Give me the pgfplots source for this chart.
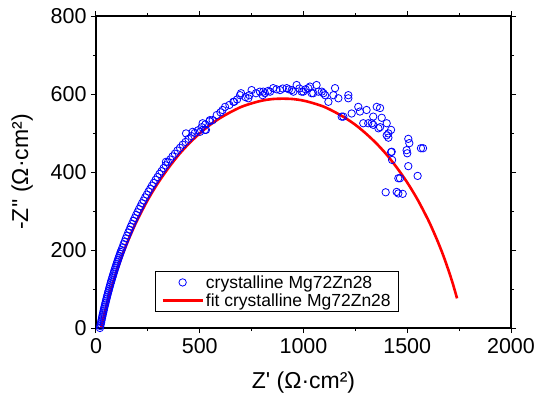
\documentclass[border=0pt]{standalone}
\usepackage{pgfplots}
\pgfplotsset{compat=1.18}
\usepackage{fontspec}
\setmainfont{Liberation Sans}[Ligatures=TeXOff]
\begin{document}
\begin{tikzpicture}
\useasboundingbox (-96pt,-80pt) rectangle (452pt,328pt);
\begin{axis}[
  at={(0pt,0pt)}, anchor=south west,
  scale only axis, width=415pt, height=312pt,
  xmin=0, xmax=2000, ymin=0, ymax=800,
  xtick={0,500,1000,1500,2000},
  ytick={0,200,400,600,800},
  minor tick num=1,
  tick align=outside,
  major tick length=5pt, minor tick length=3pt,
  every tick/.style={black, line width=1pt},
  axis line style={black, line width=1.4pt},
  /pgf/number format/assume math mode=true,
  /pgf/number format/1000 sep={},
  tick label style={font=\fontsize{21.5}{24}\selectfont},
  xticklabel style={yshift=-2pt},
  yticklabel style={xshift=-1pt},
  xlabel={Z' (Ω·cm²)},
  ylabel={-Z'' (Ω·cm²)},
  every axis x label/.style={at={(axis description cs:0.5,-0.176)}, anchor=center, font=\fontsize{23}{26}\selectfont},
  every axis y label/.style={at={(axis description cs:-0.178,0.5)}, anchor=center, rotate=90, font=\fontsize{23}{26}\selectfont},
  clip=false,
  legend style={at={(0.142,0.051)}, anchor=south west, draw=black, line width=0.8pt,
    font=\fontsize{17.5}{20}\selectfont, inner xsep=6pt, inner ysep=2pt, row sep=0pt,
    cells={anchor=west}},
  legend image code/.code={\draw[mark repeat=2,mark phase=2,#1] plot coordinates {(0pt,0pt)(20pt,0pt)(40pt,0pt)};},
]
\addplot[only marks, mark=o, mark size=3.7pt, draw={rgb,255:red,0;green,0;blue,255}, mark options={line width=0.8pt}] coordinates {
(19,0)(20.9,5)(22.8,10)(24.7,15)(26.7,20)(28.6,25)(30.7,30)(32.5,35)(34.8,40)(37,45)(39.1,50)(41.3,55)(43.6,60)(46,65)(48.2,70)(50.5,75)(52.9,80)(55.3,85)(57.8,90)(60.4,95)(63,100)(65.5,105)(68.1,110)(70.7,115)(73.4,120)(76.2,125)(79,130)(81.8,135)(84.7,140)(87.6,145)(90.5,150)(93.5,155)(96.6,160)(99.7,165)(102.8,170)(106,175)(109.2,180)(112.5,185)(115.8,190)(119.4,195)(123,200)(128,207)(133.2,215)(138.6,222)(144.2,230)(150,237)(155.8,245)(161.8,252)(167.8,260)(174,267)(180.4,275)(187,282)(193.6,290)(200.5,297)(207.4,305)(214.6,312)(221.9,320)(229.4,327)(237,335)(245,342)(253,350)(261.3,357)(269.7,365)(278.4,372)(287.3,380)(296.5,387)(305.9,395)(315.7,402)(325.6,410)(335.9,417)(346.4,425)(357.4,432)(368.6,440)(380.3,447)(392.4,455)(405,462)(417.9,470)(431.6,477)(445.6,485)(460.6,492)(476,500)(492,507)(509.2,515)(527,522)(546.8,530)
(337,426)(434,499)(466,503)(501,503)(525,508)(514,525)(530,508)(549,533)(562,533)(582,546)(600,553)(610,559)(622,567)(643,572)(662,580)(666,580)(680,586)(694,597)(699,602)(720,592)(734,589)(739,597)(750,610)(771,602)(790,606)(803,597)(806,606)(814,602)(830,608)(839,606)(854,615)(870,612)(887,610)(900,614)(919,615)(930,612)(943,610)(951,606)(967,623)(980,614)(991,606)(999,606)(1010,612)(1023,615)(1031,619)(1039,602)(1047,602)(1063,623)(1072,606)(1088,606)(1096,602)(1104,597)(1120,580)(1144,597)(1152,615)(1168,589)(1184,542)(1192,542)(1216,597)(1216,589)(1232,550)(1264,567)(1272,555)(1288,525)(1304,559)(1312,525)(1329,525)(1336,521)(1336,542)(1353,567)(1361,512)(1369,564)(1369,515)(1377,539)(1401,525)(1401,494)(1409,488)(1409,499)(1422,508)(1425,452)(1422,451)(1427,431)(1457,384)(1465,384)(1396,348)(1449,349)(1457,345)(1478,344)(1505,485)(1510,474)(1497,456)(1500,448)(1505,415)(1550,390)(1566,461)(1576,461)
};
\addlegendentry{crystalline Mg72Zn28}
\addplot[red, line width=2.6pt, smooth] coordinates {
(25,0)(30,12)(40,35)(50,56)(60,76)(75,104)(100,146)(125,184)(150,218)(175,249)(200,278)(250,329)(300,373)(350,411)(400,445)(450,474)(500,499)(550,521)(600,539)(650,554)(700,567)(750,576)(800,583)(850,587)(900,588)(950,587)(1000,583)(1050,576)(1100,567)(1150,554)(1200,539)(1250,521)(1300,499)(1350,474)(1400,445)(1450,411)(1500,373)(1550,329)(1600,278)(1625,249)(1650,218)(1675,184)(1700,146)(1720,113)(1740,76)
};
\addlegendentry{fit crystalline Mg72Zn28}
\end{axis}
\end{tikzpicture}
\end{document}
